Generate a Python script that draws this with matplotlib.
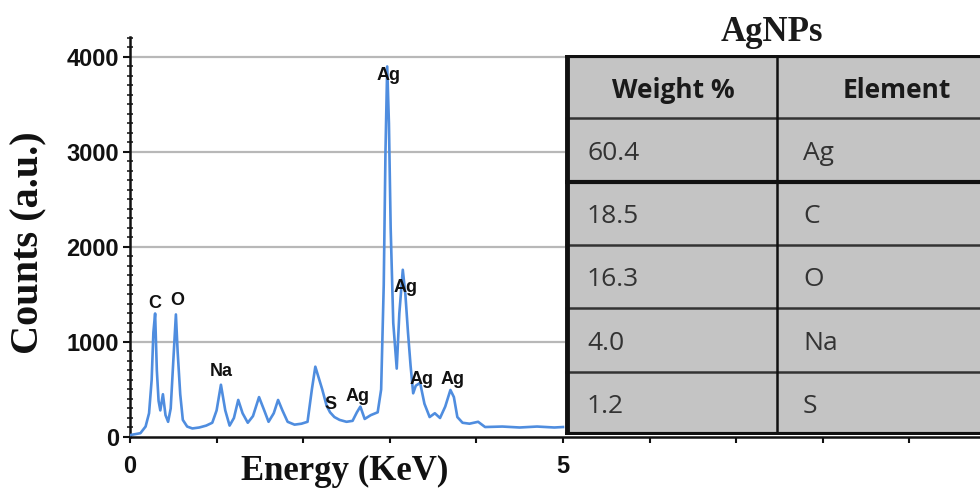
import matplotlib
matplotlib.use("Agg")
import matplotlib.pyplot as plt
from matplotlib.patches import Rectangle
from matplotlib.ticker import MultipleLocator, FixedLocator

# EDX spectrum (energy in keV, counts)
energy = [0.0, 0.06, 0.12, 0.18, 0.22, 0.25, 0.27, 0.29, 0.31, 0.33, 0.35, 0.38,
          0.41, 0.44, 0.47, 0.5, 0.53, 0.55, 0.58, 0.61, 0.66, 0.72, 0.8, 0.88,
          0.95, 1.0, 1.05, 1.1, 1.15, 1.2, 1.25, 1.3, 1.36, 1.42, 1.49, 1.55,
          1.6, 1.66, 1.71, 1.76, 1.82, 1.9, 1.98, 2.05, 2.1, 2.14, 2.18, 2.22,
          2.27, 2.31, 2.36, 2.42, 2.5, 2.57, 2.62, 2.66, 2.71, 2.78, 2.86, 2.9,
          2.93, 2.95, 2.97, 2.99, 3.01, 3.04, 3.08, 3.11, 3.15, 3.18, 3.21, 3.24,
          3.27, 3.3, 3.35, 3.4, 3.46, 3.52, 3.58, 3.64, 3.7, 3.74, 3.78, 3.84,
          3.92, 4.02, 4.1, 4.3, 4.5, 4.7, 4.9, 5.0]
counts = [20, 30, 40, 110, 250, 600, 1100, 1300, 700, 380, 280, 450,
          230, 160, 300, 800, 1290, 900, 450, 180, 110, 90, 100, 120,
          150, 280, 550, 280, 120, 200, 390, 250, 150, 220, 420, 280,
          160, 250, 390, 280, 160, 130, 140, 160, 500, 740, 620, 500,
          330, 260, 210, 180, 160, 170, 260, 320, 190, 230, 260, 500,
          1600, 3000, 3900, 3300, 2200, 1200, 720, 1300, 1760, 1500, 1100, 750,
          460, 540, 570, 350, 210, 250, 200, 320, 495, 420, 210, 150,
          140, 160, 105, 110, 100, 110, 100, 105]

# peak labels
peak_names = ["C", "O", "Na", "S", "Ag", "Ag", "Ag", "Ag", "Ag"]
peak_x = [0.29, 0.54, 1.05, 2.31, 2.63, 2.98, 3.18, 3.37, 3.72]
peak_y = [1410, 1440, 685, 337, 430, 3810, 1570, 610, 610]

# composition table
header = ["Weight %", "Element"]
weights = ["60.4", "18.5", "16.3", "4.0", "1.2"]
elements = ["Ag", "C", "O", "Na", "S"]

fig = plt.figure(figsize=(9.8, 4.9), dpi=100)
ax = fig.add_axes([130 / 980, 1 - 437 / 490, 850 / 980, 400 / 490])

ax.plot(energy, counts, color="#4f8ddf", lw=1.9, zorder=3)
for name, x, y in zip(peak_names, peak_x, peak_y):
    ax.text(x, y, name, ha="center", va="center", fontsize=13,
            fontweight="bold", family="Liberation Sans", color="#111111", zorder=4)

ax.set_xlim(0, 850 / 86.6)
ax.set_ylim(0, 4210)
ax.xaxis.set_major_locator(FixedLocator(range(0, 10)))
ax.set_xticklabels(["0", "", "", "", "", "5", "", "", "", ""])
ax.yaxis.set_major_locator(MultipleLocator(1000))
ax.yaxis.set_minor_locator(MultipleLocator(100))
for y in [1000, 2000, 3000, 4000]:
    ax.axhline(y, color="#b8b8b8", lw=1.6, zorder=1)

for s in ["top", "right"]:
    ax.spines[s].set_visible(False)
for s in ["left", "bottom"]:
    ax.spines[s].set_linewidth(1.8)
    ax.spines[s].set_color("#111111")

ax.tick_params(axis="y", which="major", direction="out", length=5, width=1.5,
               pad=3, labelsize=17, colors="#111111")
ax.tick_params(axis="y", which="minor", direction="inout", length=5, width=1.2,
               colors="#222222")
ax.tick_params(axis="x", which="major", direction="out", length=4, width=1.5,
               pad=9, labelsize=17, colors="#111111")
for lab in ax.get_xticklabels() + ax.get_yticklabels():
    lab.set_fontweight("bold")
    lab.set_family("Liberation Sans")

fig.text(29 / 980, 1 - 243 / 490, "Counts (a.u.)", rotation=90, ha="center",
         va="center", fontsize=29, fontweight="bold", family="Liberation Serif",
         color="#111111")
fig.text(345 / 980, 1 - 480 / 490, "Energy (KeV)", ha="center", va="baseline",
         fontsize=25, fontweight="bold", family="Liberation Serif", color="#111111")
fig.text(772 / 980, 1 - 41 / 490, "AgNPs", ha="center", va="baseline",
         fontsize=25, fontweight="bold", family="Liberation Serif", color="#1a1a1a")

# table drawn in its own axes, units are pixels of the table box
tw, th = 432, 380
tax = fig.add_axes([565 / 980, 1 - 435 / 490, tw / 980, th / 490])
tax.set_xlim(0, tw)
tax.set_ylim(th, 0)
tax.axis("off")
nrows = len(weights) + 1
rh = th / nrows
split = 212
tax.add_patch(Rectangle((0, 0), tw, th, facecolor="#c4c4c4", edgecolor="none"))
for i in range(1, nrows):
    lw = 3.0 if i == 2 else 1.8
    col = "#111111" if i == 2 else "#333333"
    tax.plot([0, tw], [i * rh, i * rh], color=col, lw=lw, solid_capstyle="butt")
tax.plot([0, tw], [1.5, 1.5], color="#111111", lw=3, solid_capstyle="butt")
tax.plot([0, tw], [th - 1.5, th - 1.5], color="#111111", lw=3, solid_capstyle="butt")
tax.plot([2, 2], [0, th], color="#111111", lw=3.5, solid_capstyle="butt")
tax.plot([split, split], [0, th], color="#111111", lw=1.8, solid_capstyle="butt")

tfont = "Open Sans"
tax.text(split / 2 + 2, rh / 2 + 4, header[0], ha="center", va="center",
         fontsize=19, fontweight="bold", family=tfont, color="#1a1a1a")
tax.text((split + 442) / 2 + 5, rh / 2 + 4, header[1], ha="center", va="center",
         fontsize=19, fontweight="bold", family=tfont, color="#1a1a1a")
for i, (w, e) in enumerate(zip(weights, elements)):
    yc = (i + 1.5) * rh + 3
    tax.text(22, yc, w, ha="left", va="center", fontsize=19, family=tfont,
             color="#333333")
    tax.text(split + 26, yc, e, ha="left", va="center", fontsize=19, family=tfont,
             color="#333333")

fig.savefig("out.png", dpi=100)
